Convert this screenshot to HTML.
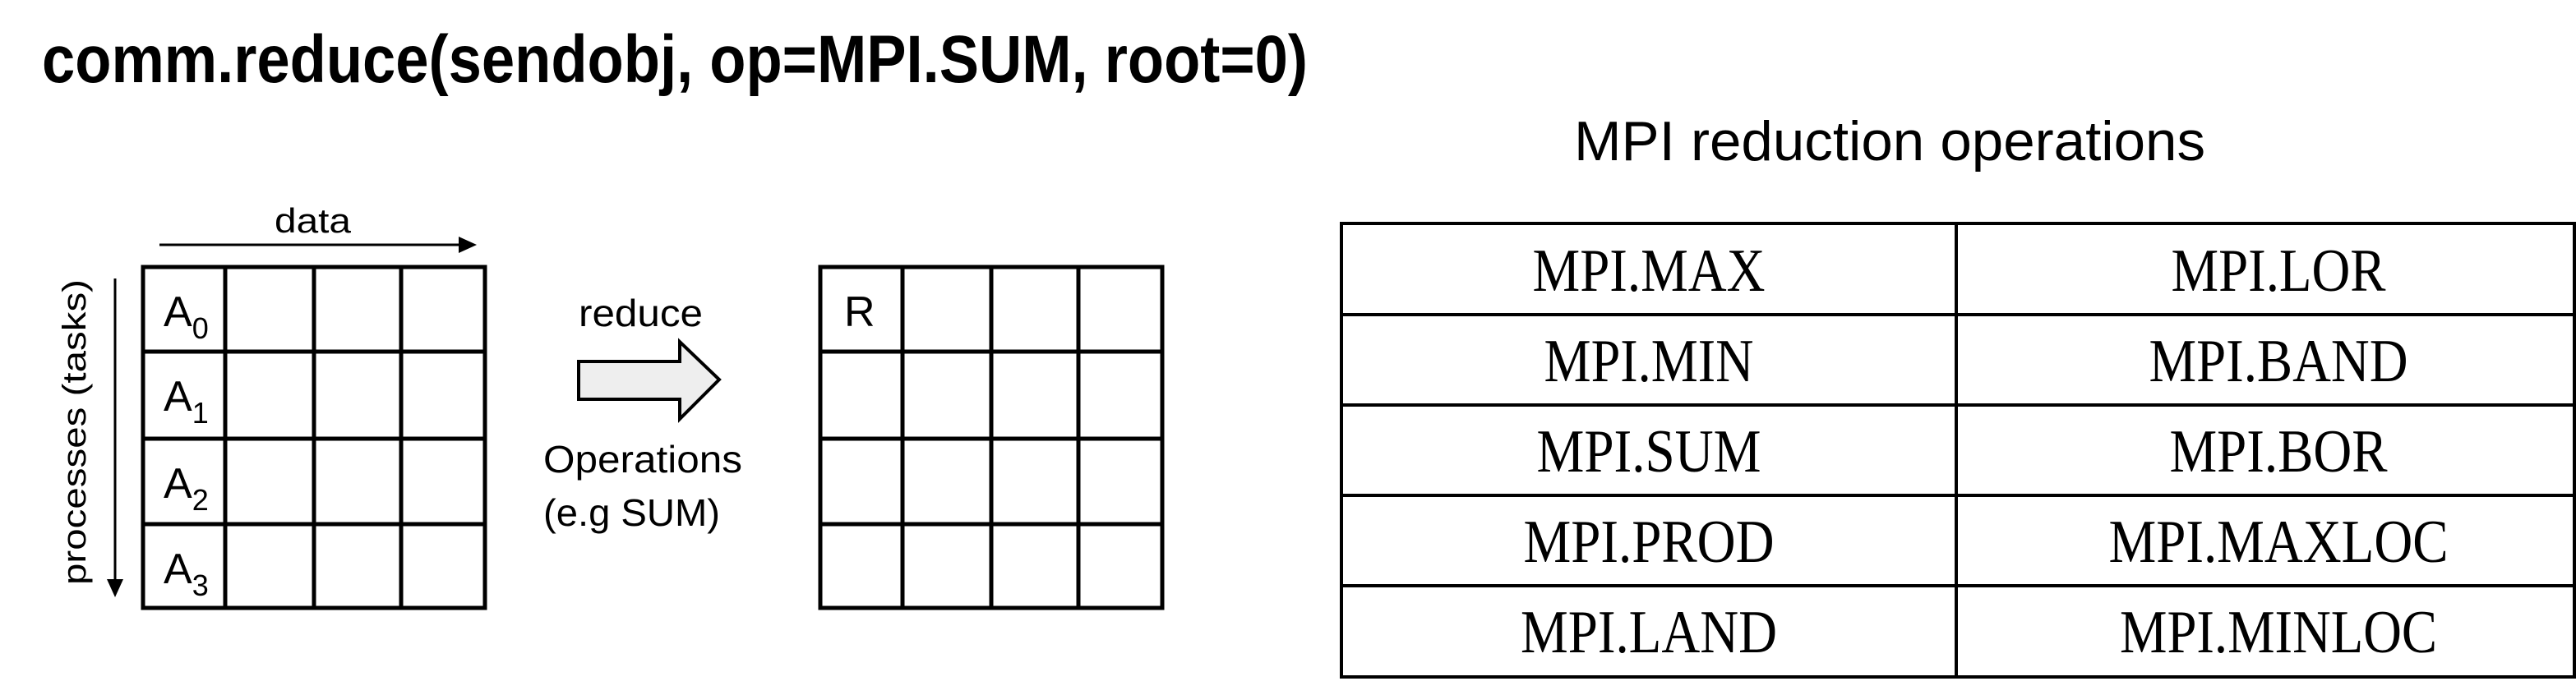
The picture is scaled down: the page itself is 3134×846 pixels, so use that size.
<!DOCTYPE html>
<html><head><style>html,body{margin:0;padding:0;background:#fff;}svg{display:block}</style></head>
<body>
<svg width="3134" height="846" viewBox="0 0 3134 846" xmlns="http://www.w3.org/2000/svg" font-family="Liberation Sans, sans-serif">
<rect width="3134" height="846" fill="#fff"/>
<text x="51" y="100" font-size="82" font-weight="bold" textLength="1540" lengthAdjust="spacingAndGlyphs">comm.reduce(sendobj, op=MPI.SUM, root=0)</text>

<!-- data arrow -->
<text x="334" y="283" font-size="42" textLength="93" lengthAdjust="spacingAndGlyphs">data</text>
<line x1="194" y1="298" x2="562" y2="298" stroke="#000" stroke-width="3"/>
<polygon points="580,298 558,288 558,308" fill="#000"/>
<!-- processes arrow -->
<line x1="140" y1="339" x2="140" y2="708" stroke="#000" stroke-width="3"/>
<polygon points="140,727 130,705 150,705" fill="#000"/>
<text transform="translate(104,712) rotate(-90)" font-size="40" textLength="372" lengthAdjust="spacingAndGlyphs">processes (tasks)</text>

<g stroke="#000" stroke-width="5" fill="none" stroke-linecap="square">
<rect x="174" y="325" width="416" height="415"/>
<line x1="274" y1="325" x2="274" y2="740"/><line x1="382" y1="325" x2="382" y2="740"/><line x1="488" y1="325" x2="488" y2="740"/>
<line x1="174" y1="428" x2="590" y2="428"/><line x1="174" y1="534" x2="590" y2="534"/><line x1="174" y1="638" x2="590" y2="638"/>
<rect x="998" y="325" width="416" height="415"/>
<line x1="1098" y1="325" x2="1098" y2="740"/><line x1="1206" y1="325" x2="1206" y2="740"/><line x1="1312" y1="325" x2="1312" y2="740"/>
<line x1="998" y1="428" x2="1414" y2="428"/><line x1="998" y1="534" x2="1414" y2="534"/><line x1="998" y1="638" x2="1414" y2="638"/>
</g>
<g font-size="52">
<text x="199" y="397">A<tspan font-size="36" dy="15">0</tspan></text>
<text x="199" y="500">A<tspan font-size="36" dy="15">1</tspan></text>
<text x="199" y="606">A<tspan font-size="36" dy="15">2</tspan></text>
<text x="199" y="710">A<tspan font-size="36" dy="15">3</tspan></text>
<text x="1027" y="397">R</text>
</g>

<text x="704" y="397" font-size="46" textLength="151" lengthAdjust="spacingAndGlyphs">reduce</text>
<polygon points="704,440 827,440 827,416 875,462 827,510 827,486 704,486" fill="#eeeeee" stroke="#000" stroke-width="4"/>
<text x="661" y="575" font-size="46" textLength="242" lengthAdjust="spacingAndGlyphs">Operations</text>
<text x="661" y="640" font-size="46" textLength="215" lengthAdjust="spacingAndGlyphs">(e.g SUM)</text>

<text x="1915" y="195" font-size="68" textLength="768" lengthAdjust="spacingAndGlyphs">MPI reduction operations</text>

<g stroke="#000" stroke-width="4">
<rect x="1632" y="272" width="1500" height="552" fill="none"/>
<line x1="2380" y1="272" x2="2380" y2="824"/>
<line x1="1632" y1="383" x2="3132" y2="383"/><line x1="1632" y1="493" x2="3132" y2="493"/>
<line x1="1632" y1="603" x2="3132" y2="603"/><line x1="1632" y1="713" x2="3132" y2="713"/>
</g>
<g font-family="Liberation Serif, serif" font-size="74" text-anchor="middle">
<text x="2006" y="354" textLength="283" lengthAdjust="spacingAndGlyphs">MPI.MAX</text>
<text x="2006" y="464" textLength="255" lengthAdjust="spacingAndGlyphs">MPI.MIN</text>
<text x="2006" y="574" textLength="273" lengthAdjust="spacingAndGlyphs">MPI.SUM</text>
<text x="2006" y="684" textLength="305" lengthAdjust="spacingAndGlyphs">MPI.PROD</text>
<text x="2006" y="794" textLength="312" lengthAdjust="spacingAndGlyphs">MPI.LAND</text>
<text x="2772" y="354" textLength="261" lengthAdjust="spacingAndGlyphs">MPI.LOR</text>
<text x="2772" y="464" textLength="315" lengthAdjust="spacingAndGlyphs">MPI.BAND</text>
<text x="2772" y="574" textLength="265" lengthAdjust="spacingAndGlyphs">MPI.BOR</text>
<text x="2772" y="684" textLength="413" lengthAdjust="spacingAndGlyphs">MPI.MAXLOC</text>
<text x="2772" y="794" textLength="386" lengthAdjust="spacingAndGlyphs">MPI.MINLOC</text>
</g>
</svg>
</body></html>
